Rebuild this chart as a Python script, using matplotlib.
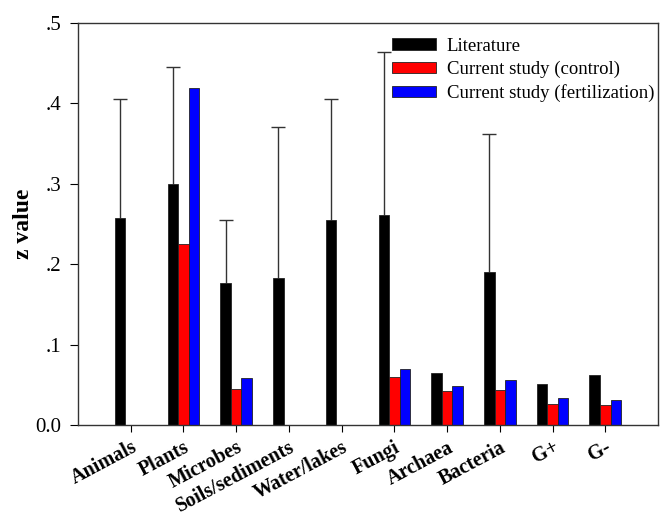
import numpy as np
import matplotlib
matplotlib.use("Agg")
import matplotlib.pyplot as plt

categories = ["Animals", "Plants", "Microbes", "Soils/sediments", "Water/lakes",
              "Fungi", "Archaea", "Bacteria", "G+", "G-"]
literature = [0.257, 0.300, 0.177, 0.183, 0.255, 0.261, 0.065, 0.190, 0.051, 0.062]
literature_upper = [0.405, 0.445, 0.255, 0.371, 0.405, 0.464, None, 0.362, None, None]
control = [None, 0.225, 0.045, None, None, 0.060, 0.042, 0.044, 0.026, 0.025]
fertilization = [None, 0.419, 0.059, None, None, 0.070, 0.049, 0.056, 0.034, 0.031]
ytick_labels = ["0.0", ".1", ".2", ".3", ".4", ".5"]

plt.rcParams.update({
    "font.family": "Liberation Serif",
    "font.size": 13,
})

fig = plt.figure(figsize=(6.6, 5.23), dpi=100)
ax = fig.add_axes([78 / 660, 1 - 425 / 523, 580 / 660, 402 / 523])

x = np.arange(1, len(categories) + 1)
w = 0.2


def clean(vals):
    return np.array([np.nan if v is None else v for v in vals], dtype=float)


lit = clean(literature)
up = clean(literature_upper)
err = np.vstack([np.zeros_like(lit), np.where(np.isnan(up), 0, up - lit)])
has_err = ~np.isnan(up)

ax.bar(x - w, lit, width=w, color="black", edgecolor="#222222", linewidth=0.6,
       label="Literature", zorder=2)
_, caps, _ = ax.errorbar((x - w)[has_err], lit[has_err], yerr=err[:, has_err], fmt="none",
                         ecolor="#333333", elinewidth=1.0, capsize=5, capthick=1.0, zorder=1)
caps[0].set_visible(False)  # only the upper cap
ax.bar(x, clean(control), width=w, color="#ff0000", edgecolor="#222222", linewidth=0.6,
       label="Current study (control)", zorder=2)
ax.bar(x + w, clean(fertilization), width=w, color="#0000ff", edgecolor="#222222",
       linewidth=0.6, label="Current study (fertilization)", zorder=2)

ax.set_xlim(0, len(categories) + 1)
ax.set_ylim(0, 0.5)
ax.set_yticks(np.linspace(0, 0.5, 6))
ax.set_yticklabels(ytick_labels, fontsize=15)
ax.set_xticks(x)
ax.set_xticklabels(categories, rotation=28, ha="right", rotation_mode="anchor",
                   fontweight="bold", fontsize=14.5)
ax.tick_params(axis="x", length=5, pad=4)
ax.tick_params(axis="y", length=6, pad=6)
for s in ax.spines.values():
    s.set_linewidth(1.0)
    s.set_color("#333333")

ax.set_ylabel("z value", fontweight="bold", fontsize=17, labelpad=1)

leg = ax.legend(loc="upper right", bbox_to_anchor=(1.0, 0.973), frameon=False,
                fontsize=13.5, handlelength=2.3, handleheight=0.55,
                labelspacing=0.32, handletextpad=0.6, borderaxespad=0, borderpad=0.2)

fig.savefig("out.png", dpi=100)
